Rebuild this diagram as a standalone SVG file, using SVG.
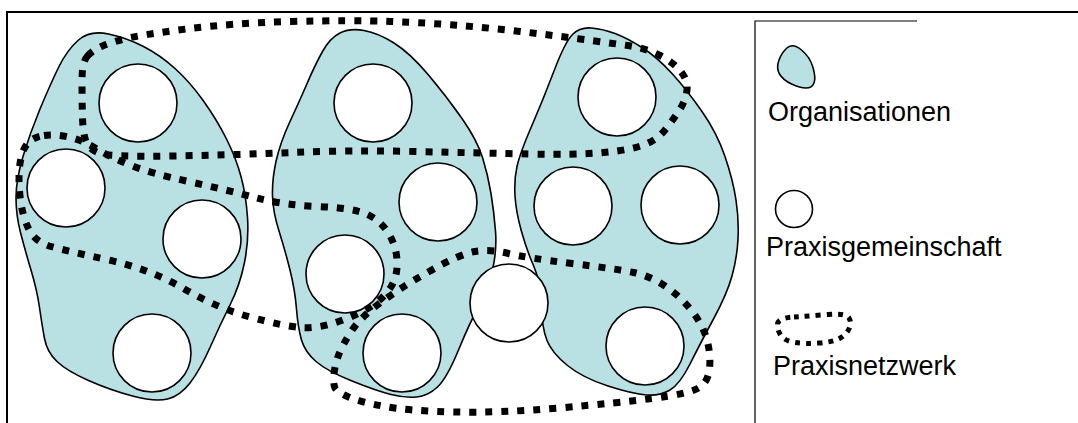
<svg xmlns="http://www.w3.org/2000/svg" width="1078" height="423" viewBox="0 0 1078 423">
<style>
.org{fill:#b9e0e3;stroke:#000;stroke-width:1.6}
.cop{fill:#fff;stroke:#000;stroke-width:1.6}
.net{fill:none;stroke:#000;stroke-width:7;stroke-dasharray:7 9}
.netsm{fill:none;stroke:#000;stroke-width:5;stroke-dasharray:5 6}
.frame{fill:none;stroke:#000;stroke-width:2}
.leg{fill:none;stroke:#000;stroke-width:1.2}
.lbl{font-family:"Liberation Sans",Arial,sans-serif;font-size:27px;fill:#000}
</style>
<rect width="1078" height="423" fill="#fff"/>
<path class="frame" d="M7,423 V12 H1078"/>
<g id="org1"><path class="org" d="M108.5,34 Q127,38 143.5,46.5 Q160,55 175,68.5 Q190,82 203.5,101 Q217,120 226.5,139 Q236,158 241,176.5 Q246,195 247.5,217.5 Q249,240 244.5,262.5 Q240,285 230,305 Q220,325 210,347.5 Q200,370 190,383 Q180,396 167.5,399 Q155,402 132.5,396 Q110,390 88.5,380.5 Q67,371 57,361.5 Q47,352 44.5,338.5 Q42,325 39.5,307.5 Q37,290 31,270 Q25,250 20.5,232.5 Q16,215 16,197.5 Q16,180 23,156.5 Q30,133 40,109 Q50,85 58.5,67.5 Q67,50 78.5,40 Q90,30 108.5,34 Z"/></g>
<g id="org2"><path class="org" d="M364,30.5 Q378,33 394,43 Q410,53 428.5,75 Q447,97 462,118.5 Q477,140 482.5,157.5 Q488,175 491,193.5 Q494,212 495.5,231 Q497,250 492.5,270 Q488,290 479,306 Q470,322 458.5,350 Q447,378 437.5,387 Q428,396 416.5,397 Q405,398 391,394.5 Q377,391 352,381 Q327,371 316,361.5 Q305,352 301.5,340 Q298,328 296.5,309 Q295,290 290,270 Q285,250 279,231 Q273,212 272.5,196 Q272,180 276,161.5 Q280,143 290,121.5 Q300,100 307.5,82.5 Q315,65 322.5,51.5 Q330,38 340,33 Q350,28 364,30.5 Z"/></g>
<g id="org3"><path class="org" d="M615,33.5 Q627,38 642,47.5 Q657,57 672,73.5 Q687,90 702,111.5 Q717,133 725,156.5 Q733,180 736,200 Q739,220 738,239 Q737,258 732,276 Q727,294 713.5,319 Q700,344 690,364 Q680,384 670,390 Q660,396 646.5,395 Q633,394 608,386 Q583,378 567.5,365.5 Q552,353 547,340.5 Q542,328 541,304 Q540,280 533.5,265.5 Q527,251 521.5,231.5 Q516,212 515,196 Q514,180 517,166.5 Q520,153 531.5,126.5 Q543,100 554,71 Q565,42 572.5,34.5 Q580,27 591.5,28 Q603,29 615,33.5 Z"/></g>
<g id="cop1"><circle class="cop" cx="138" cy="103" r="39"/></g>
<g id="cop2"><circle class="cop" cx="66" cy="188" r="39"/></g>
<g id="cop3"><circle class="cop" cx="202" cy="239" r="39"/></g>
<g id="cop4"><circle class="cop" cx="152" cy="353" r="39"/></g>
<g id="cop5"><circle class="cop" cx="373" cy="103" r="39"/></g>
<g id="cop6"><circle class="cop" cx="438" cy="202" r="39"/></g>
<g id="cop7"><circle class="cop" cx="345" cy="274" r="39"/></g>
<g id="cop8"><circle class="cop" cx="402" cy="353" r="39"/></g>
<g id="cop9"><circle class="cop" cx="509" cy="303" r="39"/></g>
<g id="cop10"><circle class="cop" cx="617" cy="97" r="39"/></g>
<g id="cop11"><circle class="cop" cx="573" cy="206" r="39"/></g>
<g id="cop12"><circle class="cop" cx="680" cy="205" r="39"/></g>
<g id="cop13"><circle class="cop" cx="645" cy="346" r="39"/></g>
<g id="networks">
<path id="net1" class="net" d="M87.5,56 Q93,50 102.5,46 Q112,42 126,38.5 Q140,35 186.5,29 Q233,23 291.5,21.5 Q350,20 390,21.5 Q430,23 460,25.5 Q490,28 520,31.5 Q550,35 580,39 Q610,43 627.5,45.5 Q645,48 659,55 Q673,62 680.5,71 Q688,80 687,90 Q686,100 679.5,110 Q673,120 665,130 Q657,140 643.5,145 Q630,150 603.5,152.5 Q577,155 528.5,154 Q480,153 415,151.5 Q350,150 291.5,152.5 Q233,155 171.5,156 Q110,157 100,153.5 Q90,150 86.5,142.5 Q83,135 82.5,117.5 Q82,100 82,81 Q82,62 87.5,56 Z"/>
<path id="net2" class="net" d="M44,135.5 Q55,134 68.5,137 Q82,140 96,148.5 Q110,157 130,165 Q150,173 188.5,181.5 Q227,190 255,197.5 Q283,205 318,206.5 Q353,208 366.5,214 Q380,220 388,232.5 Q396,245 397,260 Q398,275 391.5,286 Q385,297 372.5,305.5 Q360,314 338.5,321.5 Q317,329 300,327.5 Q283,326 250,317 Q217,308 183.5,288.5 Q150,269 108.5,260 Q67,251 51,246.5 Q35,242 28.5,228.5 Q22,215 20,196 Q18,177 20,163.5 Q22,150 27.5,143.5 Q33,137 44,135.5 Z"/>
<path id="net3" class="net" d="M334,374 Q335,364 339,354 Q343,344 351.5,331 Q360,318 380,303 Q400,288 430,271 Q460,254 475,251.5 Q490,249 508.5,253.5 Q527,258 572,263.5 Q617,269 633.5,272.5 Q650,276 665,286 Q680,296 691.5,310.5 Q703,325 707,340 Q711,355 709.5,369 Q708,383 697.5,388.5 Q687,394 652,398.5 Q617,403 558.5,408 Q500,413 455,412 Q410,411 385,406.5 Q360,402 348.5,397 Q337,392 335,388 Q333,384 334,374 Z"/>
</g>
<g id="legend">
<path class="leg" d="M755,423 V21 H917"/>
<g id="leg-org"><path class="org" d="M801.5,50 Q810,57 813,67.5 Q816,78 814,83 Q812,88 806,88 Q800,88 791.5,84 Q783,80 779.5,74 Q776,68 779,60 Q782,52 787.5,47.5 Q793,43 801.5,50 Z"/>
<text class="lbl" x="768" y="121">Organisationen</text></g>
<g id="leg-cop"><circle class="cop" cx="794" cy="209" r="18.5"/>
<text class="lbl" x="766" y="256">Praxisgemeinschaft</text></g>
<g id="leg-net"><path class="netsm" d="M794,317 Q810,316 828,314.5 Q846,313 849,318 Q852,323 849,329 Q846,335 839.5,338.5 Q833,342 819,343 Q805,344 795,342.5 Q785,341 781,335.5 Q777,330 777.5,324 Q778,318 794,317 Z"/>
<text class="lbl" x="773" y="375">Praxisnetzwerk</text></g>
</g>
</svg>
